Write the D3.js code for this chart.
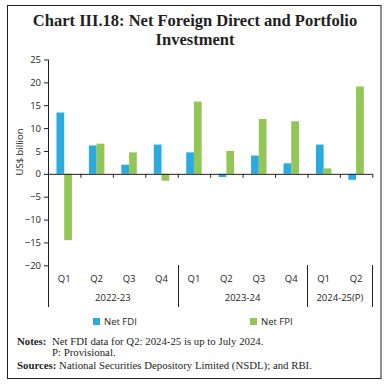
<!DOCTYPE html>
<meta charset="utf-8">
<style>
  body { margin: 0; background: #fff; }
  svg { display: block; }
  .title { font-family: "Liberation Serif", "DejaVu Serif", serif; font-weight: bold; font-size: 16.5px; fill: #231f20; }
  .axis text, .cat, .legend text { font-family: "Open Sans", "Noto Sans", sans-serif; font-size: 9.5px; fill: #231f20; }
  .note { font-family: "Liberation Serif", serif; font-size: 10.8px; fill: #231f20; }
  .note .b { font-weight: bold; }
</style>
<body>
<svg width="389" height="389"></svg>
</body>
<script src="https://d3js.org/d3.v7.min.js"></script>
<script>
  var quarters = ["Q1", "Q2", "Q3", "Q4", "Q1", "Q2", "Q3", "Q4", "Q1", "Q2"];
  var years = [
    { label: "2022-23", n: 4 },
    { label: "2023-24", n: 4 },
    { label: "2024-25(P)", n: 2 }
  ];
  var fdi = [13.4, 6.2, 2.0, 6.4, 4.7, -0.7, 4.0, 2.3, 6.4, -1.3];
  var fpi = [-14.5, 6.6, 4.7, -1.5, 15.8, 5.0, 12.0, 11.5, 1.2, 19.1];
  var seriesNames = ["Net FDI", "Net FPI"];
  var colors = ["#29abe2", "#92c755"];
  var yTicks = [25, 20, 15, 10, 5, 0, -5, -10, -15, -20];

  var svg = d3.select("svg");

  // frame
  svg.append("rect")
    .attr("x", 7.5).attr("y", 5.5)
    .attr("width", 373.5).attr("height", 373)
    .attr("fill", "none").attr("stroke", "#231f20").attr("stroke-width", 1);

  svg.append("text").attr("class", "title")
    .attr("x", 195).attr("y", 26).attr("text-anchor", "middle")
    .text("Chart III.18: Net Foreign Direct and Portfolio");
  svg.append("text").attr("class", "title")
    .attr("x", 195).attr("y", 45).attr("text-anchor", "middle")
    .text("Investment");

  var left = 48, right = 372.3;
  var idx = d3.range(quarters.length);

  var x = d3.scaleBand().domain(idx).range([left, right]).paddingInner(0).paddingOuter(0);
  var x1 = d3.scaleBand().domain([0, 1]).range([0, x.bandwidth()]).paddingOuter(1.1).paddingInner(0);
  var y = d3.scaleLinear().domain([-20, 25]).range([265.3, 59.5]);

  var g = svg.append("g");

  // bars
  var data = idx.map(function (i) { return [fdi[i], fpi[i]]; });
  var grp = g.selectAll(".grp").data(data).enter().append("g")
    .attr("transform", function (d, i) { return "translate(" + x(i) + ",0)"; });
  grp.selectAll("rect").data(function (d) { return d; }).enter().append("rect")
    .attr("x", function (d, j) { return x1(j); })
    .attr("width", x1.bandwidth())
    .attr("y", function (d) { return y(Math.max(0, d)); })
    .attr("height", function (d) { return Math.abs(y(d) - y(0)); })
    .attr("fill", function (d, j) { return colors[j]; });

  // y axis
  var yAxis = g.append("g").attr("class", "axis")
    .attr("transform", "translate(" + left + ",0)")
    .call(d3.axisLeft(y).tickValues(yTicks).tickSize(4).tickPadding(3));
  yAxis.select(".domain").remove();
  yAxis.selectAll("line").attr("stroke", "#231f20");
  g.append("line").attr("x1", left + 0.5).attr("x2", left + 0.5)
    .attr("y1", y(25)).attr("y2", 307).attr("stroke", "#231f20");

  // zero line with ticks
  var xAxis = g.append("g").attr("class", "axis")
    .attr("transform", "translate(0," + y(0) + ")")
    .call(d3.axisBottom(d3.scaleLinear().domain([0, quarters.length]).range([left, right]))
      .ticks(quarters.length).tickSize(4).tickFormat(""));
  xAxis.select(".domain").attr("d", "M" + left + ",0.5H" + right).attr("stroke", "#231f20");
  xAxis.selectAll("line").attr("stroke", "#231f20");

  // category labels
  g.selectAll(".cat").data(quarters).enter().append("text").attr("class", "cat")
    .attr("x", function (d, i) { return x(i) + x.bandwidth() / 2; })
    .attr("y", 282).attr("text-anchor", "middle").text(function (d) { return d; });

  var start = 0;
  years.forEach(function (yr) {
    var x0 = x(start), xe = x(start + yr.n - 1) + x.bandwidth();
    g.append("text").attr("class", "cat")
      .attr("x", (x0 + xe) / 2).attr("y", 301).attr("text-anchor", "middle").text(yr.label);
    g.append("line").attr("x1", Math.round(xe) + 0.5).attr("x2", Math.round(xe) + 0.5)
      .attr("y1", 265).attr("y2", 307).attr("stroke", "#231f20");
    start += yr.n;
  });

  // y label
  g.append("text").attr("class", "cat")
    .attr("transform", "translate(23,152) rotate(-90)")
    .attr("text-anchor", "middle").text("US$ billion");

  // legend
  var lx = [93, 250];
  var legend = svg.append("g").attr("class", "legend");
  seriesNames.forEach(function (s, i) {
    legend.append("rect").attr("x", lx[i]).attr("y", 318).attr("width", 7).attr("height", 7).attr("fill", colors[i]);
    legend.append("text").attr("x", lx[i] + 11).attr("y", 325).text(s);
  });

  // notes
  var n1 = svg.append("text").attr("class", "note").attr("x", 17).attr("y", 345);
  n1.append("tspan").attr("class", "b").text("Notes:");
  n1.append("tspan").attr("x", 52).text("Net FDI data for Q2: 2024-25 is up to July 2024.");
  svg.append("text").attr("class", "note").attr("x", 52).attr("y", 356).text("P: Provisional.");
  var n3 = svg.append("text").attr("class", "note").attr("x", 17).attr("y", 369);
  n3.append("tspan").attr("class", "b").text("Sources:");
  n3.append("tspan").text(" National Securities Depository Limited (NSDL); and RBI.");
</script>
